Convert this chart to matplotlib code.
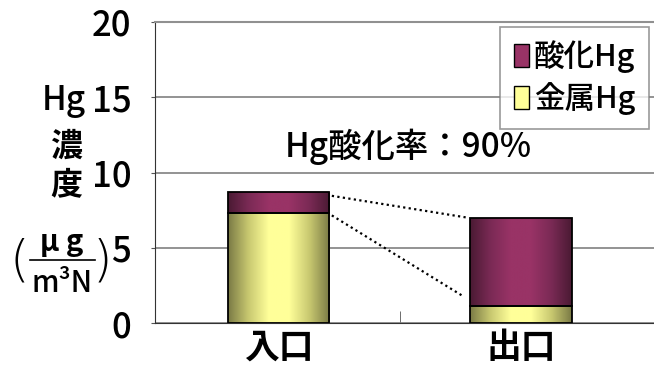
import matplotlib
matplotlib.use('Agg')
import matplotlib.pyplot as plt
import numpy as np
from matplotlib.colors import LinearSegmentedColormap
from matplotlib.patches import Patch
from matplotlib.lines import Line2D

plt.rcParams['font.family'] = ['Noto Sans CJK JP', 'DejaVu Sans']
plt.rcParams['font.weight'] = 'medium'

# data
categories = ['入口', '出口']
metal_hg = [7.3, 1.1]
oxidized_hg = [1.4, 5.9]
rate_label = 'Hg酸化率：90%'
yticks = [0, 5, 10, 15, 20]

yellow_cmap = LinearSegmentedColormap.from_list(
    'yel', ['#7a7a45', '#c8c870', '#ffff99', '#ffff99', '#c8c870', '#7a7a45'])
maroon_cmap = LinearSegmentedColormap.from_list(
    'mar', ['#4a1a33', '#7a2a55', '#993366', '#993366', '#7a2a55', '#4a1a33'])

fig = plt.figure(figsize=(6.54, 3.76), dpi=100)
ax = fig.add_axes([155 / 654, 1 - 323 / 376, 1 - 155 / 654, 301 / 376])

x = np.arange(len(categories))
width = 0.42
b1 = ax.bar(x, metal_hg, width, facecolor='none', edgecolor='black', linewidth=1.3, zorder=3)
b2 = ax.bar(x, oxidized_hg, width, bottom=metal_hg, facecolor='none', edgecolor='black',
            linewidth=1.3, zorder=3)

# horizontal gradient fill in each bar
grad = np.linspace(0, 1, 256).reshape(1, -1)
for bars, cmap in [(b1, yellow_cmap), (b2, maroon_cmap)]:
    for p in bars:
        x0, y0 = p.get_x(), p.get_y()
        im = ax.imshow(grad, extent=[x0, x0 + p.get_width(), y0, y0 + p.get_height()],
                       aspect='auto', cmap=cmap, zorder=2)
        im.set_clip_path(p)

# dotted connector lines
total = [m + o for m, o in zip(metal_hg, oxidized_hg)]
xa = x[0] + width / 2 + 0.01
xb = x[1] - width / 2 - 0.01
ax.plot([xa, xb], [total[0] - 0.25, total[1]], ls=(0, (1, 1.5)), color='black', lw=1.6, zorder=4)
ax.plot([xa, xb - 0.02], [metal_hg[0] - 0.15, metal_hg[1] + 0.7], ls=(0, (1, 1.5)),
        color='black', lw=1.6, zorder=4)

ax.set_xlim(-0.51, 1.55)
ax.set_ylim(0, 20)
ax.set_yticks(yticks)
ax.set_yticklabels([str(v) for v in yticks], fontsize=25)
ax.tick_params(axis='y', length=3, pad=14, color='#555555')
ax.set_xticks(x)
ax.set_xticklabels(categories, fontsize=25, fontweight='bold')
ax.tick_params(axis='x', length=0, pad=5)
ax.set_xticks([0.5], minor=True)
ax.tick_params(axis='x', which='minor', direction='in', length=9, color='#555555')

ax.grid(axis='y', color='#808080', lw=1.2, zorder=0)
ax.set_axisbelow(True)
ax.spines['right'].set_visible(False)
ax.spines['top'].set_color('#909090')
ax.spines['top'].set_linewidth(1.5)
ax.spines['left'].set_color('#333333')
ax.spines['bottom'].set_color('#333333')

ax.text(0.535, 11.7, rate_label, ha='center', va='center', fontsize=24,
        bbox=dict(facecolor='white', edgecolor='none', pad=1), zorder=5)

handles = [Patch(facecolor='#993366', edgecolor='black', label='酸化Hg'),
           Patch(facecolor='#ffff99', edgecolor='black', label='金属Hg')]
leg = ax.legend(handles=handles, loc='upper right', bbox_to_anchor=(0.99, 0.985), fontsize=22,
                frameon=True, fancybox=False, handlelength=0.5, handleheight=0.8,
                handletextpad=0.15, borderpad=0.45, labelspacing=0.3, borderaxespad=0)
leg.get_frame().set_edgecolor('#808080')
leg.get_frame().set_linewidth(1.2)

# y axis label pieces
fig.text(64 / 654, 1 - 100 / 376, 'Hg', ha='center', va='center', fontsize=24)
fig.text(66 / 654, 1 - 147 / 376, '濃', ha='center', va='center', fontsize=23, fontweight='bold')
fig.text(66 / 654, 1 - 185 / 376, '度', ha='center', va='center', fontsize=23, fontweight='bold')
fig.text(62 / 654, 1 - 242 / 376, 'μ g', ha='center', va='center', fontsize=21, fontweight='bold')
fig.text(62 / 654, 1 - 283 / 376, 'm³N', ha='center', va='center', fontsize=21)
fig.add_artist(Line2D([30 / 654, 95 / 654], [1 - 260 / 376, 1 - 260 / 376], color='black', lw=1.2))
fig.text(19 / 654, 1 - 262 / 376, '(', ha='center', va='center', fontsize=36, fontweight='light',
         family='DejaVu Sans')
fig.text(102 / 654, 1 - 262 / 376, ')', ha='center', va='center', fontsize=36, fontweight='light',
         family='DejaVu Sans')

fig.savefig('out.png', dpi=100)
